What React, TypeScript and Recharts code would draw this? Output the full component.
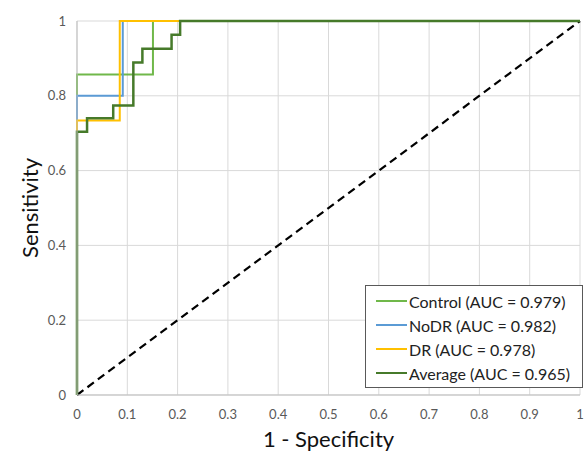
import { LineChart, Line, XAxis, YAxis, CartesianGrid, Legend, Label } from "recharts";

// ROC corner points (1 - specificity, sensitivity)
const controlRoc = [
  { x: 0, y: 0 }, { x: 0, y: 0.857 }, { x: 0.151, y: 1 }, { x: 1, y: 1 },
];
const nodrRoc = [
  { x: 0, y: 0 }, { x: 0, y: 0.8 }, { x: 0.091, y: 1 }, { x: 1, y: 1 },
];
const drRoc = [
  { x: 0, y: 0 }, { x: 0, y: 0.734 }, { x: 0.085, y: 1 }, { x: 1, y: 1 },
];
const averageRoc = [
  { x: 0, y: 0 }, { x: 0, y: 0.704 }, { x: 0.02, y: 0.74 }, { x: 0.072, y: 0.774 },
  { x: 0.112, y: 0.889 }, { x: 0.13, y: 0.926 }, { x: 0.188, y: 0.963 },
  { x: 0.205, y: 1 }, { x: 1, y: 1 },
];
const chanceLine = [{ x: 0, y: 0 }, { x: 1, y: 1 }];

const xTicks = [0, 0.1, 0.2, 0.3, 0.4, 0.5, 0.6, 0.7, 0.8, 0.9, 1];
const yTicks = [0, 0.2, 0.4, 0.6, 0.8, 1];

const SERIES = [
  { name: "Control (AUC = 0.979)", data: controlRoc, color: "#70b84a" },
  { name: "NoDR (AUC = 0.982)", data: nodrRoc, color: "#5b9bd5" },
  { name: "DR (AUC = 0.978)", data: drRoc, color: "#ffc000" },
  { name: "Average (AUC = 0.965)", data: averageRoc, color: "#467a2a" },
];

const FONT = "Lato, 'Open Sans', sans-serif";

function RocLegend() {
  return (
    <div style={{ border: "1.5px solid #595959", background: "#fff", padding: "3px 8px 2px 10px", fontFamily: FONT }}>
      {SERIES.map(s => (
        <div key={s.name} style={{ display: "flex", alignItems: "center", height: 24 }}>
          <div style={{ width: 31, height: 2, background: s.color, marginRight: 2 }} />
          <span style={{ fontSize: 16, color: "#222", whiteSpace: "nowrap" }}>{s.name}</span>
        </div>
      ))}
    </div>
  );
}

export default function App() {
  return (
    <div style={{ position: "absolute", left: 0, top: 0, background: "#fff" }}>
      <LineChart width={588} height={455} margin={{ top: 21, right: 8, bottom: 0, left: 0 }}>
        <CartesianGrid stroke="#d9d9d9" strokeWidth={1} horizontalValues={yTicks} verticalValues={xTicks} />
        <XAxis
          dataKey="x" type="number" domain={[0, 1]} ticks={xTicks} interval={0}
          height={60} tickLine={false} axisLine={{ stroke: "#bfbfbf" }}
          tick={{ fill: "#595959", fontSize: 13, fontFamily: FONT }} tickMargin={9}
        >
          <Label value="1 - Specificity" position="center" dy={14} style={{ fontSize: 22, fill: "#111", fontFamily: FONT }} />
        </XAxis>
        <YAxis
          dataKey="y" type="number" domain={[0, 1]} ticks={yTicks} interval={0}
          width={77} tickLine={false} axisLine={{ stroke: "#bfbfbf" }}
          tick={{ fill: "#595959", fontSize: 13, fontFamily: FONT }} tickMargin={5}
        >
          <Label value="Sensitivity" position="center" angle={-90} dx={-8} style={{ fontSize: 22, fill: "#111", fontFamily: FONT, textAnchor: "middle" }} />
        </YAxis>
        <Legend
          layout="vertical" align="center" verticalAlign="middle"
          content={() => <RocLegend />}
          wrapperStyle={{ left: 365, top: 285, width: 218 }}
        />
        <Line
          data={chanceLine} dataKey="y" type="linear" stroke="#000" strokeWidth={2.2}
          strokeDasharray="8 5" dot={false} activeDot={false} isAnimationActive={false} legendType="none"
        />
        {SERIES.map(s => (
          <Line
            key={s.name} data={s.data} dataKey="y" name={s.name} type="stepAfter"
            stroke={s.color} strokeWidth={s.name.startsWith("Average") ? 2.5 : 2}
            dot={false} activeDot={false} isAnimationActive={false}
          />
        ))}
      </LineChart>
    </div>
  );
}
